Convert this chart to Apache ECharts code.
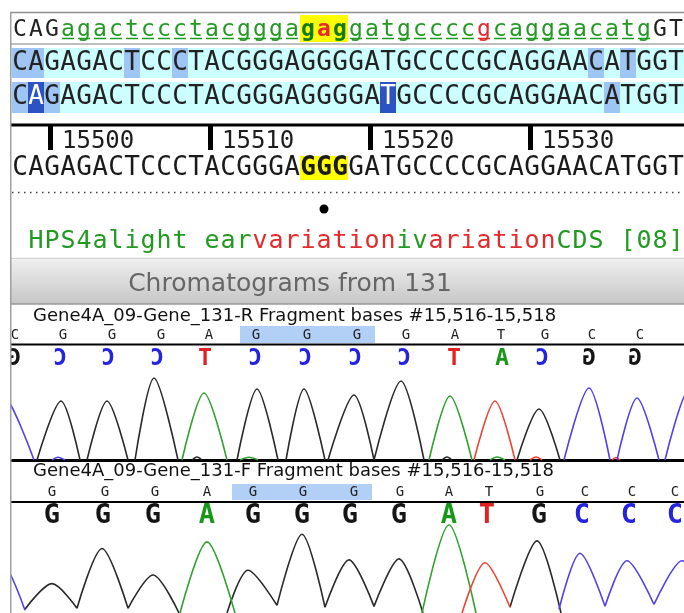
<!DOCTYPE html>
<html>
<head>
<meta charset="utf-8">
<title>Chromatograms from 131</title>
<script src="https://cdn.jsdelivr.net/npm/echarts@6/dist/echarts.min.js"></script>
<style>
  html, body { margin: 0; padding: 0; background: #fff; }
  #chart { width: 684px; height: 613px; }
</style>
</head>
<body>
<div id="chart"></div>
<script>
// ---- data ----
// annotated reference row: [text, kind]
var refSegments = [
  ['CAG', 'plain'], ['agactccctacggga', 'feature'],
  ['g', 'codon'], ['a', 'codonSnp'], ['g', 'codon'],
  ['gatgcccc', 'feature'], ['g', 'snp'], ['caggaacatg', 'feature'], ['GT', 'plain']
]
var readSeq = 'CAGAGACTCCCTACGGGAGGGGATGCCCCGCAGGAACATGGT'
var read1Marks = [0, 1, 7, 10, 36, 38]
var read2Marks = [0, 2, 37]
var read2Strong = [1, 23]
var consensusSeq = 'CAGAGACTCCCTACGGGAGGGGATGCCCCGCAGGAACATGGT'
var selectedBases = [18, 19, 20]
var rulerFirstIndex = 2
var rulerLabels = [15500, 15510, 15520, 15530]
var featureSegments = [
  ['HPS4alight ear', 'g'], ['variation', 'r'], ['iv', 'g'], ['ariation', 'r'], ['CDS [08]', 'g']
]
var panelTitle = 'Chromatograms from 131'
var revTitle = 'Gene4A_09-Gene_131-R Fragment bases #15,516-15,518'
var fwdTitle = 'Gene4A_09-Gene_131-F Fragment bases #15,516-15,518'

// reverse read: reference bases, base calls (drawn mirrored) and their scan positions
var revRefBases = ['C', 'G', 'G', 'G', 'A', 'G', 'G', 'G', 'G', 'A', 'T', 'G', 'C', 'C']
var revRefScan = [15, 63, 112, 161, 209, 256, 307, 357, 406, 455, 501, 545, 592, 640]
var revCalls = ['G', 'C', 'C', 'C', 'T', 'C', 'C', 'C', 'C', 'T', 'A', 'C', 'G', 'G']
var revCallScan = [14, 60, 108, 157, 205, 255, 305, 355, 404, 454, 502, 542, 589, 635]
var revHighlight = [240, 375]

// forward read
var fwdRefBases = ['G', 'G', 'G', 'A', 'G', 'G', 'G', 'G', 'A', 'T', 'G', 'C', 'C', 'C']
var fwdRefScan = [52, 105, 155, 207, 253, 303, 354, 400, 449, 489, 540, 585, 632, 675]
var fwdCalls = ['G', 'G', 'G', 'A', 'G', 'G', 'G', 'G', 'A', 'T', 'G', 'C', 'C', 'C']
var fwdCallScan = [52, 103, 153, 207, 253, 302, 350, 399, 449, 487, 539, 582, 629, 675]
var fwdHighlight = [232, 372]

// trace peaks: each peak is [left foot, apex, right foot] as [scan, signal]
var revGPeaks = [
  [[37, 0], [61, 590], [80, 0]], [[87, 0], [107, 590], [128, 0]], [[135, 0], [154, 820], [178, 0]],
  [[192, 0], [197, 30], [202, 0]], [[237, 0], [257, 710], [278, 0]], [[286, 0], [304, 710], [325, 0]],
  [[328, 0], [354, 650], [374, 0]], [[374, 0], [401, 790], [424, 0]], [[442, 0], [447, 30], [452, 0]],
  [[517, 0], [539, 510], [560, 0]]
]
var revAPeaks = [
  [[182, 0], [204, 670], [227, 0]], [[240, 0], [249, 28], [258, 0]],
  [[429, 0], [450, 640], [472, 0]], [[490, 0], [497, 30], [505, 0]]
]
var revTPeaks = [
  [[474, 0], [495, 590], [515, 0]], [[530, 0], [536, 30], [542, 0]], [[612, 0], [616, 25], [620, 0]]
]
var revCPeaks = [
  [[-25, 0], [0, 690], [34, 0]], [[52, 0], [58, 28], [65, 0]], [[564, 0], [589, 720], [610, 0]],
  [[617, 0], [637, 620], [659, 0]], [[665, 0], [690, 720], [715, 0]]
]

var fwdGPeaks = [
  [[25, 40], [52, 310], [77, 50]], [[77, 50], [102, 680], [128, 50]], [[128, 50], [153, 400], [179, 0]],
  [[227, 0], [248, 450], [277, 80]], [[277, 80], [302, 830], [325, 60]], [[325, 60], [349, 560], [374, 70]],
  [[374, 70], [399, 570], [423, 0]], [[510, 60], [537, 760], [561, 0]]
]
var fwdAPeaks = [[[180, 0], [207, 750], [235, 0]], [[422, 0], [449, 930], [476, 0]]]
var fwdTPeaks = [[[462, 0], [485, 530], [510, 60]]]
var fwdCPeaks = [
  [[-25, 0], [0, 560], [25, 30]], [[559, 40], [580, 630], [605, 70]],
  [[605, 70], [627, 550], [654, 90]], [[654, 90], [682, 550], [710, 0]]
]

// ---- styles ----
var MONO = '"DejaVu Sans Mono", monospace'
var SANS = '"DejaVu Sans", sans-serif'
var callColor = { A: '#189818', C: '#2323e0', G: '#151515', T: '#e22222' }
var traceColor = { A: '#2fa12f', C: '#5040f0', G: '#2a2a2a', T: '#ef4431' }
var green = '#219a21'
var red = '#e42a2a'

var chart = echarts.init(document.getElementById('chart'))

// peaks joined into one line, broken between peaks
function traceData(peaks) {
  var out = []
  peaks.forEach(function (p, k) {
    if (k) out.push([p[0][0], '-'])
    out.push(p[0], p[1], p[2])
  })
  return out
}

function trace(grid, peaks, color) {
  return {
    type: 'line',
    xAxisIndex: grid,
    yAxisIndex: grid,
    data: traceData(peaks),
    smooth: 0.3,
    connectNulls: false,
    symbol: 'none',
    silent: true,
    clip: true,
    lineStyle: { color: color, width: 1.6 }
  }
}

chart.setOption({
  animation: false,
  backgroundColor: '#fff',
  grid: [
    { left: 12, right: 0, top: 371, height: 89 },
    { left: 12, right: 0, top: 520, height: 98 }
  ],
  xAxis: [
    {
      type: 'value', gridIndex: 0, min: 12, max: 684,
      axisLine: { show: true, lineStyle: { color: '#000', width: 3 } },
      axisTick: { show: false }, axisLabel: { show: false }, splitLine: { show: false }
    },
    { type: 'value', gridIndex: 1, min: 12, max: 684, show: false }
  ],
  yAxis: [
    { type: 'value', gridIndex: 0, min: 0, max: 890, show: false },
    { type: 'value', gridIndex: 1, min: 0, max: 980, show: false }
  ],
  series: [
    trace(0, revGPeaks, traceColor.G), trace(0, revAPeaks, traceColor.A),
    trace(0, revTPeaks, traceColor.T), trace(0, revCPeaks, traceColor.C),
    trace(1, fwdGPeaks, traceColor.G), trace(1, fwdAPeaks, traceColor.A),
    trace(1, fwdTPeaks, traceColor.T), trace(1, fwdCPeaks, traceColor.C)
  ]
})

// ---- graphic helpers ----
var els = []
function rect(x, y, w, h, fill, z) {
  els.push({ type: 'rect', z: z || 0, silent: true, shape: { x: x, y: y, width: w, height: h }, style: { fill: fill } })
}
function line(x1, y1, x2, y2, stroke, w, dash, z) {
  els.push({
    type: 'line', z: z || 1, silent: true,
    shape: { x1: x1, y1: y1, x2: x2, y2: y2 },
    style: { stroke: stroke, lineWidth: w, lineDash: dash || null }
  })
}
function text(x, y, s, color, size, opts) {
  opts = opts || {}
  els.push({
    type: 'text', z: opts.z || 2, silent: true, x: x, y: y, scaleX: opts.mirror ? -1 : 1,
    style: {
      text: s, x: 0, y: 0, fill: color, fontSize: size,
      fontFamily: opts.family || MONO, fontWeight: opts.bold ? 'bold' : 'normal',
      textAlign: opts.align || 'center', verticalAlign: 'middle'
    }
  })
}
function cellX(i) { return 12 + 16 * i }
function px(grid, scan) { return chart.convertToPixel({ xAxisIndex: grid }, scan) }

// row 1: annotated reference
rect(11, 12, 673, 32, '#fff')
line(10, 12.5, 684, 12.5, '#8f8f8f', 1.5)
line(10, 44, 684, 44, '#a8a8a8', 1.5)
var pos = 0
refSegments.forEach(function (seg) {
  for (var k = 0; k < seg[0].length; k++) {
    var i = pos + k
    var cx = cellX(i) + 8
    var kind = seg[1]
    var color = '#222', bold = false
    if (kind === 'feature') color = green
    if (kind === 'snp') color = red
    if (kind === 'codon' || kind === 'codonSnp') {
      rect(cellX(i), 15, 16, 27, '#ffff00')
      color = kind === 'codon' ? '#137a13' : red
      bold = true
    }
    if (kind === 'feature' || kind === 'snp') line(cx - 6, 38.5, cx + 6, 38.5, color, 1.5)
    text(cx, 30, seg[0][k], color, 23, { bold: bold })
  }
  pos += seg[0].length
})

// rows 2 and 3: aligned reads
rect(11, 48, 673, 30, '#ccffff')
rect(11, 82, 673, 31, '#ccffff')
read1Marks.forEach(function (i) { rect(cellX(i), 48, 16, 30, '#9fc5f4') })
read2Marks.forEach(function (i) { rect(cellX(i), 82, 16, 31, '#9fc5f4') })
read2Strong.forEach(function (i) { rect(cellX(i), 82, 16, 31, '#2d52c4') })
for (var i = 0; i < readSeq.length; i++) {
  text(cellX(i) + 8, 63, readSeq[i], '#222', 26)
  text(cellX(i) + 8, 97.5, readSeq[i], read2Strong.indexOf(i) >= 0 ? '#fff' : '#222', 26)
}

// ruler
line(10, 125, 684, 125, '#000', 3)
rulerLabels.forEach(function (lab, k) {
  var tx = cellX(rulerFirstIndex + 10 * k) + 4
  rect(tx, 125, 5, 25, '#000')
  text(tx + 14, 142, String(lab), '#1c1c1c', 24, { align: 'left' })
})

// consensus row
rect(cellX(selectedBases[0]), 156, 16 * selectedBases.length, 24, '#ffff00')
for (var j = 0; j < consensusSeq.length; j++) {
  var sel = selectedBases.indexOf(j) >= 0
  text(cellX(j) + 8, 168, consensusSeq[j], '#1a1a1a', 26, { bold: sel })
}
line(12, 192.5, 684, 192.5, '#444', 1.5, [1.5, 4.5])
els.push({ type: 'circle', silent: true, z: 2, shape: { cx: cellX(selectedBases[1]) + 8, cy: 209, r: 4.5 }, style: { fill: '#000' } })

// feature row
var fpos = 0
featureSegments.forEach(function (seg) {
  for (var k = 0; k < seg[0].length; k++) {
    text(36 + 16 * (fpos + k), 241, seg[0][k], seg[1] === 'g' ? green : red, 25)
  }
  fpos += seg[0].length
})

// panel header
line(10, 258.5, 684, 258.5, '#d2d2d2', 1.5)
els.push({
  type: 'rect', silent: true, z: 0,
  shape: { x: 11, y: 260, width: 673, height: 44 },
  style: {
    fill: new echarts.graphic.LinearGradient(0, 0, 0, 1, [
      { offset: 0, color: '#eeeeee' }, { offset: 1, color: '#c6c6c6' }
    ])
  }
})
line(10, 304, 684, 304, '#9a9a9a', 1.5)
text(290, 284, panelTitle, '#666666', 25, { family: SANS })

// reverse read labels
text(33, 316.5, revTitle, '#111', 18, { family: SANS, align: 'left' })
rect(revHighlight[0], 326, revHighlight[1] - revHighlight[0], 17, '#b2d0f6')
revRefBases.forEach(function (b, k) { text(px(0, revRefScan[k]), 335, b, '#222', 14) })
line(10, 344.5, 684, 344.5, '#000', 2)
revCalls.forEach(function (b, k) {
  text(px(0, revCallScan[k]), 359, b, callColor[b], 23, { bold: true, mirror: true })
})

// forward read labels
text(33, 471.5, fwdTitle, '#111', 18, { family: SANS, align: 'left' })
rect(fwdHighlight[0], 484, fwdHighlight[1] - fwdHighlight[0], 16, '#b2d0f6')
fwdRefBases.forEach(function (b, k) { text(px(1, fwdRefScan[k]), 492, b, '#222', 14) })
line(10, 502, 684, 502, '#000', 2)
fwdCalls.forEach(function (b, k) {
  text(px(1, fwdCallScan[k]), 515.5, b, callColor[b], 27, { bold: true })
})

// left frame
rect(0, 0, 10, 613, '#fff', 50)
line(10.75, 12, 10.75, 613, '#a0a0a0', 1.5, null, 51)

chart.setOption({ graphic: { elements: els } })
</script>
</body>
</html>
